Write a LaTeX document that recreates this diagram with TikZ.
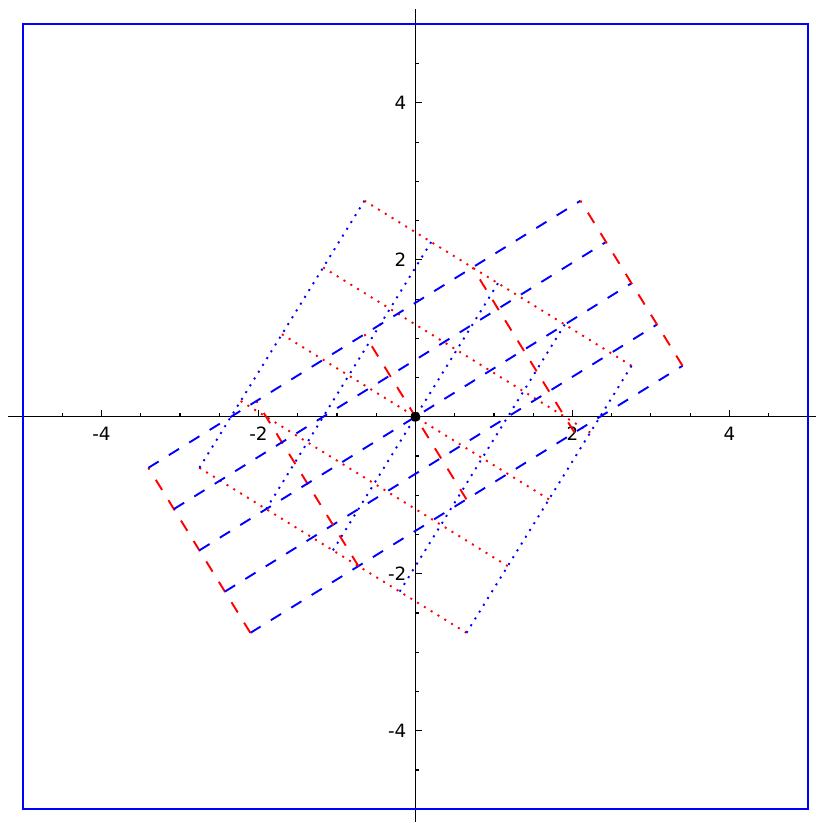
\documentclass[tikz,border=0pt]{standalone}
\usepackage{fontspec}
\setmainfont{DejaVu Sans}
\begin{document}
\begin{tikzpicture}[x=78.5pt,y=78.5pt,
  axisline/.style={line width=1.3pt,black},
  tickmark/.style={line width=1.1pt,black},
  ticklabel/.style={inner sep=0pt,font=\fontsize{18.3}{20}\selectfont},
  frameline/.style={line width=1.8pt,blue},
  dotline/.style={line width=1.9pt,dash pattern=on 2pt off 6pt},
  dashline/.style={line width=1.9pt,dash pattern=on 12pt off 12pt}]
\useasboundingbox (-5.293,-5.175) rectangle (5.102,5.310);
\pgfmathsetmacro{\phival}{1.6180340}
\pgfmathsetmacro{\iphi}{0.6180340}
\pgfmathsetmacro{\ang}{31.7175}
% axes
\draw[axisline] (-5.19,0) -- (5.25,0);
\draw[axisline] (0,-5.16) -- (0,5.2);
\foreach \t in {-5,-4.5,...,5.1}{
  \draw[tickmark] (\t,0) -- ++(0,3.5pt);
  \draw[tickmark] (0,\t) -- ++(3.5pt,0);
}
\foreach \t in {-4,-2,2,4}{
  \draw[tickmark] (\t,0) -- ++(0,7pt);
  \draw[tickmark] (0,\t) -- ++(7pt,0);
  \node[ticklabel,anchor=base] at ([yshift=-23.3pt]\t,0) {\t};
  \node[ticklabel,anchor=east] at ([xshift=-9pt]0,\t) {\t};
}
% frame
\draw[frameline] (-5,-5) rectangle (5,5);
% dotted grid
\begin{scope}[rotate=-\ang]
  \foreach \b in {-2,...,2}{
    \draw[dotline,red] (-2,\b) -- (2,\b);
    \draw[dotline,blue] (\b,-2) -- (\b,2);
  }
\end{scope}
% dashed grid
\begin{scope}[rotate=\ang]
  \foreach \k in {-2,...,2}{
    \draw[dashline,blue] (-2*\phival,\k*\iphi) -- (2*\phival,\k*\iphi);
    \draw[dashline,red] (\k*\phival,-2*\iphi) -- (\k*\phival,2*\iphi);
  }
\end{scope}
\fill[black] (0,0) circle (5pt);
\end{tikzpicture}
\end{document}
